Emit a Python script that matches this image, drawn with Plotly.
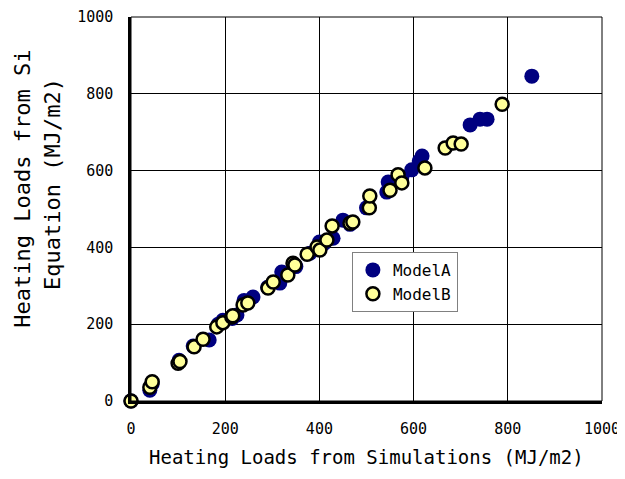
import plotly.graph_objects as go

# Model A (navy, filled)
model_a_x = [0, 40, 45, 102, 132, 166, 185, 195, 215, 225, 240, 259, 290, 316, 320, 350,
             380, 400, 410, 429, 450, 465, 500, 543, 546, 575, 596, 618, 612, 720, 741, 756, 851]
model_a_y = [0, 28, 45, 106, 143, 159, 200, 210, 215, 224, 262, 271, 296, 307, 336, 350,
             385, 414, 410, 424, 471, 460, 503, 544, 570, 583, 602, 638, 625, 719, 734, 734, 846]

# Model B (light yellow, black outline)
model_b_x = [0, 40, 45, 100, 104, 134, 153, 182, 195, 214, 216, 238, 248, 291, 302, 333, 344,
             348, 374, 395, 401, 416, 427, 465, 471, 506, 507, 550, 567, 575, 624, 667, 684, 701, 788]
model_b_y = [0, 36, 50, 98, 103, 141, 161, 193, 204, 219, 222, 250, 255, 294, 310, 328, 359,
             354, 382, 401, 393, 419, 456, 463, 466, 503, 534, 549, 589, 568, 607, 659, 672, 669, 773]

tick_vals = [0, 200, 400, 600, 800, 1000]
tick_text = ["0", "200", "400", "600", "800", "1000"]

series_names = ["ModelA", "ModelB"]
x_title = "Heating Loads from Simulations (MJ/m2)"
y_title_line1 = "Heating Loads from Si"
y_title_line2 = "Equation (MJ/m2)"

MONO = "DejaVu Sans Mono"

fig = go.Figure()
fig.add_trace(go.Scatter(
    x=model_a_x, y=model_a_y, mode="markers", name=series_names[0],
    marker=dict(color="#000080", size=15, line=dict(width=0)),
    cliponaxis=False,
))
fig.add_trace(go.Scatter(
    x=model_b_x, y=model_b_y, mode="markers", name=series_names[1],
    marker=dict(color="#FFFF99", size=13, line=dict(color="black", width=2.5)),
    cliponaxis=False,
))

axis_common = dict(
    range=[0, 1000], tickvals=tick_vals, ticktext=tick_text,
    showgrid=True, gridcolor="black", gridwidth=1,
    showline=True, linecolor="black", linewidth=2.5,
    zeroline=False, ticks="", automargin=False,
    tickfont=dict(family=MONO, size=15, color="black"),
)

fig.update_layout(
    width=617, height=471,
    margin=dict(l=123, r=23, t=9, b=78),
    paper_bgcolor="white", plot_bgcolor="white",
    xaxis=dict(**axis_common, ticklabelstandoff=12),
    yaxis=dict(**axis_common, ticklabelstandoff=12),
    showlegend=True,
    legend=dict(
        x=0.469, y=0.388, xanchor="left", yanchor="top",
        bgcolor="white", bordercolor="#808080", borderwidth=1,
        font=dict(family=MONO, size=16, color="black"),
        itemwidth=30, tracegroupgap=0,
    ),
    shapes=[dict(type="rect", xref="paper", yref="paper", x0=0, y0=0, x1=1, y1=1,
                 line=dict(color="black", width=1), layer="above")],
    annotations=[
        dict(text=x_title, xref="paper", yref="paper", x=0.5, y=-0.147,
             xanchor="center", yanchor="middle", showarrow=False,
             font=dict(family=MONO, size=19, color="black")),
        dict(text=y_title_line1, xref="paper", yref="paper", x=-0.232, y=0.552,
             xanchor="center", yanchor="middle", showarrow=False, textangle=-90,
             font=dict(family=MONO, size=22, color="black")),
        dict(text=y_title_line2, xref="paper", yref="paper", x=-0.168, y=0.565,
             xanchor="center", yanchor="middle", showarrow=False, textangle=-90,
             font=dict(family=MONO, size=22, color="black")),
    ],
)

fig.write_html("out.html")
